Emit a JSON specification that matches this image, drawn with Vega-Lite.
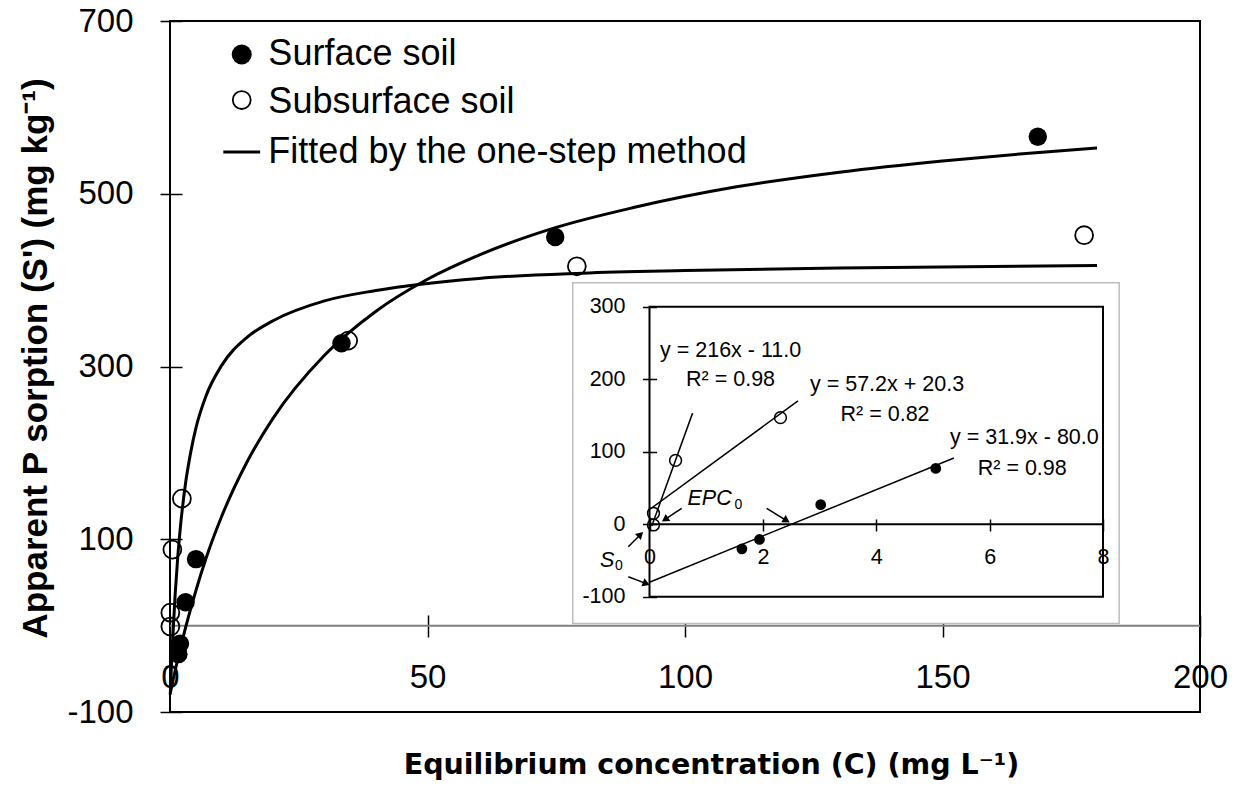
{
  "$schema": "https://vega.github.io/schema/vega-lite/v6.json",
  "width": 1030,
  "height": 691,
  "autosize": {"type": "none"},
  "padding": {"left": 170, "top": 21, "right": 38, "bottom": 74},
  "background": "white",
  "config": {
    "view": {"stroke": "black", "strokeWidth": 2},
    "font": "Liberation Sans",
    "axis": {"labelColor": "black", "tickColor": "black", "titleColor": "black", "grid": false, "domain": false, "labelFlush": false, "labelOverlap": false, "labelFont": "Liberation Sans", "tickWidth": 1.5}
  },
  "datasets": {
    "zero": [{"S": 0}],
    "curves": [
      {"soil": "Surface soil", "C": 0.1, "S": -77},
      {"soil": "Surface soil", "C": 1, "S": -52},
      {"soil": "Surface soil", "C": 2, "S": -27},
      {"soil": "Surface soil", "C": 3, "S": -3},
      {"soil": "Surface soil", "C": 4, "S": 19},
      {"soil": "Surface soil", "C": 5, "S": 40},
      {"soil": "Surface soil", "C": 7, "S": 78},
      {"soil": "Surface soil", "C": 10, "S": 126},
      {"soil": "Surface soil", "C": 15, "S": 190},
      {"soil": "Surface soil", "C": 20, "S": 240},
      {"soil": "Surface soil", "C": 30, "S": 313},
      {"soil": "Surface soil", "C": 40, "S": 364},
      {"soil": "Surface soil", "C": 50, "S": 401},
      {"soil": "Surface soil", "C": 60, "S": 429},
      {"soil": "Surface soil", "C": 75, "S": 461},
      {"soil": "Surface soil", "C": 90, "S": 484},
      {"soil": "Surface soil", "C": 110, "S": 508},
      {"soil": "Surface soil", "C": 130, "S": 525},
      {"soil": "Surface soil", "C": 150, "S": 538},
      {"soil": "Surface soil", "C": 165, "S": 546},
      {"soil": "Surface soil", "C": 180, "S": 553},
      {"soil": "Subsurface soil", "C": 0.05, "S": -80},
      {"soil": "Subsurface soil", "C": 0.25, "S": -51},
      {"soil": "Subsurface soil", "C": 0.5, "S": -18},
      {"soil": "Subsurface soil", "C": 1, "S": 36},
      {"soil": "Subsurface soil", "C": 1.5, "S": 79},
      {"soil": "Subsurface soil", "C": 2, "S": 113},
      {"soil": "Subsurface soil", "C": 3, "S": 164},
      {"soil": "Subsurface soil", "C": 4, "S": 200},
      {"soil": "Subsurface soil", "C": 5, "S": 228},
      {"soil": "Subsurface soil", "C": 7, "S": 266},
      {"soil": "Subsurface soil", "C": 10, "S": 301},
      {"soil": "Subsurface soil", "C": 15, "S": 334},
      {"soil": "Subsurface soil", "C": 20, "S": 353},
      {"soil": "Subsurface soil", "C": 30, "S": 376},
      {"soil": "Subsurface soil", "C": 40, "S": 388},
      {"soil": "Subsurface soil", "C": 60, "S": 402},
      {"soil": "Subsurface soil", "C": 80, "S": 408},
      {"soil": "Subsurface soil", "C": 100, "S": 411},
      {"soil": "Subsurface soil", "C": 130, "S": 414},
      {"soil": "Subsurface soil", "C": 180, "S": 417}
    ],
    "pts": [
      {"soil": "Surface soil", "C": 1.63, "S": -33},
      {"soil": "Surface soil", "C": 1.94, "S": -21},
      {"soil": "Surface soil", "C": 3.02, "S": 27},
      {"soil": "Surface soil", "C": 5.05, "S": 77},
      {"soil": "Surface soil", "C": 33.3, "S": 327},
      {"soil": "Surface soil", "C": 74.8, "S": 450},
      {"soil": "Surface soil", "C": 168.5, "S": 566},
      {"soil": "Subsurface soil", "C": 0.07, "S": -1},
      {"soil": "Subsurface soil", "C": 0.07, "S": 15},
      {"soil": "Subsurface soil", "C": 0.46, "S": 88},
      {"soil": "Subsurface soil", "C": 2.31, "S": 147},
      {"soil": "Subsurface soil", "C": 34.6, "S": 330},
      {"soil": "Subsurface soil", "C": 79, "S": 416},
      {"soil": "Subsurface soil", "C": 177.5, "S": 452}
    ],
    "legendPts": [
      {"soil": "Surface soil", "C": 13.93, "S": 661.2},
      {"soil": "Subsurface soil", "C": 13.93, "S": 608.5}
    ],
    "legendLine": [{"C": 10.35, "C2": 17.5, "S": 548.2}],
    "legendText": [
      {"C": 19.1, "S": 649, "label": "Surface soil"},
      {"C": 19.1, "S": 593.1, "label": "Subsurface soil"},
      {"C": 19.1, "S": 535.2, "label": "Fitted by the one-step method"}
    ],
    "box": [{"C": 78.2, "C2": 184.3, "S": 2.6, "S2": 397}],
    "frame": [{"C": 0, "C2": 8, "S": -100, "S2": 300}],
    "insetAxis": [{"C": 0, "C2": 8, "S": 0}],
    "insetPts": [
      {"soil": "Surface soil", "C": 1.63, "S": -34},
      {"soil": "Surface soil", "C": 1.94, "S": -21},
      {"soil": "Surface soil", "C": 3.02, "S": 27},
      {"soil": "Surface soil", "C": 5.05, "S": 77},
      {"soil": "Subsurface soil", "C": 0.07, "S": -1},
      {"soil": "Subsurface soil", "C": 0.07, "S": 15},
      {"soil": "Subsurface soil", "C": 0.46, "S": 88},
      {"soil": "Subsurface soil", "C": 2.31, "S": 147}
    ],
    "fits": [
      {"fit": "a", "C": 0.04, "S": -2.4},
      {"fit": "a", "C": 0.76, "S": 153.2},
      {"fit": "b", "C": 0, "S": 20.3},
      {"fit": "b", "C": 2.62, "S": 170.2},
      {"fit": "c", "C": 0, "S": -80},
      {"fit": "c", "C": 5.37, "S": 91.3}
    ],
    "arrows": [
      {"C": 0.568, "S": 21.9, "C2": 0.273, "S2": 6.5},
      {"C": 2.067, "S": 21.9, "C2": 2.418, "S2": 5.0},
      {"C": -0.374, "S": -31.0, "C2": -0.159, "S2": -14.2},
      {"C": -0.374, "S": -72.4, "C2": -0.056, "S2": -81.9}
    ],
    "heads": [
      {"C": 0.273, "S": 6.5, "angle": 236},
      {"C": 2.418, "S": 5.0, "angle": 122},
      {"C": -0.159, "S": -14.2, "angle": 45},
      {"C": -0.056, "S": -81.9, "angle": 111}
    ],
    "insetText": [
      {"C": 0.185, "S": 231, "label": "y = 216x - 11.0"},
      {"C": 0.644, "S": 190.6, "label": "R² = 0.98"},
      {"C": 2.83, "S": 183.5, "label": "y = 57.2x + 20.3"},
      {"C": 3.37, "S": 143, "label": "R² = 0.82"},
      {"C": 5.3, "S": 110.2, "label": "y = 31.9x - 80.0"},
      {"C": 5.79, "S": 68, "label": "R² = 0.98"}
    ],
    "insetItalic": [
      {"C": 0.67, "S": 26.5, "label": "EPC"},
      {"C": -0.873, "S": -59.4, "label": "S"}
    ],
    "insetSub": [
      {"C": 1.5, "S": 20.6, "label": "0"},
      {"C": -0.61, "S": -63, "label": "0"}
    ]
  },
  "layer": [
    {
      "layer": [
        {
          "data": {"name": "zero"},
          "mark": {"type": "rule", "color": "#808080", "strokeWidth": 2},
          "encoding": {
            "y": {"field": "S", "type": "quantitative", "scale": {"domain": [-100, 700], "nice": false, "zero": false}}
          }
        },
        {
          "data": {"name": "curves"},
          "mark": {"type": "line", "color": "black", "strokeWidth": 3, "interpolate": "monotone"},
          "encoding": {
            "x": {
              "field": "C", "type": "quantitative",
              "scale": {"domain": [0, 200], "nice": false, "zero": false},
              "axis": {
                "orient": "bottom", "offset": -97, "values": [0, 50, 100, 150, 200],
                "tickSize": 22, "labelFontSize": 33, "labelBaseline": "alphabetic", "labelPadding": 50, "labelAlign": "center",
                "title": "Equilibrium concentration (C) (mg L⁻¹)",
                "titleFont": "DejaVu Sans", "titleFontWeight": "bold", "titleFontSize": 28.5,
                "titleX": 541, "titleY": 158, "titleAlign": "center", "titleBaseline": "alphabetic", "titleAngle": 0
              }
            },
            "y": {
              "field": "S", "type": "quantitative",
              "scale": {"domain": [-100, 700], "nice": false, "zero": false},
              "axis": {
                "orient": "left", "offset": -12, "values": [-100, 100, 300, 500, 700],
                "tickSize": 22, "labelFontSize": 33, "labelBaseline": "middle", "labelPadding": 27, "labelAlign": "right",
                "labelExpr": "replace(datum.label, '−', '-')",
                "title": "Apparent P sorption (S') (mg kg⁻¹)",
                "titleFont": "Liberation Sans", "titleFontWeight": "bold", "titleFontSize": 35,
                "titleX": -136, "titleY": 337, "titleAlign": "center", "titleBaseline": "alphabetic", "titleAngle": 270
              }
            },
            "detail": {"field": "soil", "type": "nominal"}
          }
        },
        {
          "data": {"name": "pts"},
          "transform": [{"filter": "datum.soil === 'Subsurface soil'"}],
          "mark": {"type": "point", "shape": "circle", "filled": false, "color": "black", "strokeWidth": 1.8, "size": 320, "opacity": 1},
          "encoding": {
            "x": {"field": "C", "type": "quantitative", "scale": {"domain": [0, 200], "nice": false, "zero": false}},
            "y": {"field": "S", "type": "quantitative", "scale": {"domain": [-100, 700], "nice": false, "zero": false}}
          }
        },
        {
          "data": {"name": "pts"},
          "transform": [{"filter": "datum.soil === 'Surface soil'"}],
          "mark": {"type": "point", "shape": "circle", "filled": true, "color": "black", "size": 340, "opacity": 1},
          "encoding": {
            "x": {"field": "C", "type": "quantitative", "scale": {"domain": [0, 200], "nice": false, "zero": false}},
            "y": {"field": "S", "type": "quantitative", "scale": {"domain": [-100, 700], "nice": false, "zero": false}}
          }
        },
        {
          "data": {"name": "legendPts"},
          "transform": [{"filter": "datum.soil === 'Surface soil'"}],
          "mark": {"type": "point", "shape": "circle", "filled": true, "color": "black", "size": 400, "opacity": 1},
          "encoding": {
            "x": {"field": "C", "type": "quantitative", "scale": {"domain": [0, 200], "nice": false, "zero": false}},
            "y": {"field": "S", "type": "quantitative", "scale": {"domain": [-100, 700], "nice": false, "zero": false}}
          }
        },
        {
          "data": {"name": "legendPts"},
          "transform": [{"filter": "datum.soil === 'Subsurface soil'"}],
          "mark": {"type": "point", "shape": "circle", "filled": false, "color": "black", "strokeWidth": 1.8, "size": 320, "opacity": 1},
          "encoding": {
            "x": {"field": "C", "type": "quantitative", "scale": {"domain": [0, 200], "nice": false, "zero": false}},
            "y": {"field": "S", "type": "quantitative", "scale": {"domain": [-100, 700], "nice": false, "zero": false}}
          }
        },
        {
          "data": {"name": "legendLine"},
          "mark": {"type": "rule", "color": "black", "strokeWidth": 3},
          "encoding": {
            "x": {"field": "C", "type": "quantitative", "scale": {"domain": [0, 200], "nice": false, "zero": false}},
            "x2": {"field": "C2"},
            "y": {"field": "S", "type": "quantitative", "scale": {"domain": [-100, 700], "nice": false, "zero": false}}
          }
        },
        {
          "data": {"name": "legendText"},
          "mark": {"type": "text", "align": "left", "baseline": "alphabetic", "fontSize": 36, "font": "Liberation Sans", "color": "black"},
          "encoding": {
            "x": {"field": "C", "type": "quantitative", "scale": {"domain": [0, 200], "nice": false, "zero": false}},
            "y": {"field": "S", "type": "quantitative", "scale": {"domain": [-100, 700], "nice": false, "zero": false}},
            "text": {"field": "label"}
          }
        },
        {
          "data": {"name": "box"},
          "mark": {"type": "rect", "fill": "white", "stroke": "#bdbdbd", "strokeWidth": 1.5},
          "encoding": {
            "x": {"field": "C", "type": "quantitative", "scale": {"domain": [0, 200], "nice": false, "zero": false}},
            "x2": {"field": "C2"},
            "y": {"field": "S", "type": "quantitative", "scale": {"domain": [-100, 700], "nice": false, "zero": false}},
            "y2": {"field": "S2"}
          }
        }
      ]
    },
    {
      "layer": [
        {
          "data": {"name": "frame"},
          "mark": {"type": "rect", "fillOpacity": 0, "stroke": "black", "strokeWidth": 2},
          "encoding": {
            "x": {
              "field": "C", "type": "quantitative",
              "scale": {"domain": [0, 8], "range": [479.5, 933], "nice": false, "zero": false},
              "axis": {
                "orient": "bottom", "offset": -193, "values": [0, 2, 4, 6, 8], "zindex": 2, "format": "d",
                "tickSize": 12, "labelFontSize": 21.5, "labelBaseline": "alphabetic", "labelPadding": 32.5, "labelAlign": "center",
                "title": null
              }
            },
            "x2": {"field": "C2"},
            "y": {
              "field": "S", "type": "quantitative",
              "scale": {"domain": [-100, 300], "range": [575.7, 285.7], "nice": false, "zero": false},
              "axis": {
                "orient": "left", "offset": -486.5, "values": [-100, 0, 100, 200, 300], "zindex": 2,
                "tickSize": 14, "labelFontSize": 21.5, "labelBaseline": "middle", "labelPadding": 17.5, "labelAlign": "right",
                "labelExpr": "replace(datum.label, '−', '-')",
                "title": null
              }
            },
            "y2": {"field": "S2"}
          }
        },
        {
          "data": {"name": "insetAxis"},
          "mark": {"type": "rule", "color": "black", "strokeWidth": 2},
          "encoding": {
            "x": {"field": "C", "type": "quantitative", "scale": {"domain": [0, 8], "range": [479.5, 933], "nice": false, "zero": false}},
            "x2": {"field": "C2"},
            "y": {"field": "S", "type": "quantitative", "scale": {"domain": [-100, 300], "range": [575.7, 285.7], "nice": false, "zero": false}}
          }
        },
        {
          "data": {"name": "fits"},
          "mark": {"type": "line", "color": "black", "strokeWidth": 1.5},
          "encoding": {
            "x": {"field": "C", "type": "quantitative", "scale": {"domain": [0, 8], "range": [479.5, 933], "nice": false, "zero": false}},
            "y": {"field": "S", "type": "quantitative", "scale": {"domain": [-100, 300], "range": [575.7, 285.7], "nice": false, "zero": false}},
            "detail": {"field": "fit", "type": "nominal"}
          }
        },
        {
          "data": {"name": "insetPts"},
          "transform": [{"filter": "datum.soil === 'Subsurface soil'"}],
          "mark": {"type": "point", "shape": "circle", "filled": false, "color": "black", "strokeWidth": 1.5, "size": 140, "opacity": 1},
          "encoding": {
            "x": {"field": "C", "type": "quantitative", "scale": {"domain": [0, 8], "range": [479.5, 933], "nice": false, "zero": false}},
            "y": {"field": "S", "type": "quantitative", "scale": {"domain": [-100, 300], "range": [575.7, 285.7], "nice": false, "zero": false}}
          }
        },
        {
          "data": {"name": "insetPts"},
          "transform": [{"filter": "datum.soil === 'Surface soil'"}],
          "mark": {"type": "point", "shape": "circle", "filled": true, "color": "black", "size": 115, "opacity": 1},
          "encoding": {
            "x": {"field": "C", "type": "quantitative", "scale": {"domain": [0, 8], "range": [479.5, 933], "nice": false, "zero": false}},
            "y": {"field": "S", "type": "quantitative", "scale": {"domain": [-100, 300], "range": [575.7, 285.7], "nice": false, "zero": false}}
          }
        },
        {
          "data": {"name": "arrows"},
          "mark": {"type": "rule", "color": "black", "strokeWidth": 1.5},
          "encoding": {
            "x": {"field": "C", "type": "quantitative", "scale": {"domain": [0, 8], "range": [479.5, 933], "nice": false, "zero": false}},
            "x2": {"field": "C2"},
            "y": {"field": "S", "type": "quantitative", "scale": {"domain": [-100, 300], "range": [575.7, 285.7], "nice": false, "zero": false}},
            "y2": {"field": "S2"}
          }
        },
        {
          "data": {"name": "heads"},
          "mark": {"type": "point", "shape": "triangle-up", "filled": true, "color": "black", "size": 70, "opacity": 1},
          "encoding": {
            "x": {"field": "C", "type": "quantitative", "scale": {"domain": [0, 8], "range": [479.5, 933], "nice": false, "zero": false}},
            "y": {"field": "S", "type": "quantitative", "scale": {"domain": [-100, 300], "range": [575.7, 285.7], "nice": false, "zero": false}},
            "angle": {"field": "angle", "type": "quantitative", "scale": null}
          }
        },
        {
          "data": {"name": "insetText"},
          "mark": {"type": "text", "align": "left", "baseline": "alphabetic", "fontSize": 21.5, "font": "Liberation Sans", "color": "black"},
          "encoding": {
            "x": {"field": "C", "type": "quantitative", "scale": {"domain": [0, 8], "range": [479.5, 933], "nice": false, "zero": false}},
            "y": {"field": "S", "type": "quantitative", "scale": {"domain": [-100, 300], "range": [575.7, 285.7], "nice": false, "zero": false}},
            "text": {"field": "label"}
          }
        },
        {
          "data": {"name": "insetItalic"},
          "mark": {"type": "text", "align": "left", "baseline": "alphabetic", "fontSize": 21.5, "fontStyle": "italic", "font": "Liberation Sans", "color": "black"},
          "encoding": {
            "x": {"field": "C", "type": "quantitative", "scale": {"domain": [0, 8], "range": [479.5, 933], "nice": false, "zero": false}},
            "y": {"field": "S", "type": "quantitative", "scale": {"domain": [-100, 300], "range": [575.7, 285.7], "nice": false, "zero": false}},
            "text": {"field": "label"}
          }
        },
        {
          "data": {"name": "insetSub"},
          "mark": {"type": "text", "align": "left", "baseline": "alphabetic", "fontSize": 14, "font": "Liberation Sans", "color": "black"},
          "encoding": {
            "x": {"field": "C", "type": "quantitative", "scale": {"domain": [0, 8], "range": [479.5, 933], "nice": false, "zero": false}},
            "y": {"field": "S", "type": "quantitative", "scale": {"domain": [-100, 300], "range": [575.7, 285.7], "nice": false, "zero": false}},
            "text": {"field": "label"}
          }
        }
      ]
    }
  ],
  "resolve": {"scale": {"x": "independent", "y": "independent"}, "axis": {"x": "independent", "y": "independent"}}
}
